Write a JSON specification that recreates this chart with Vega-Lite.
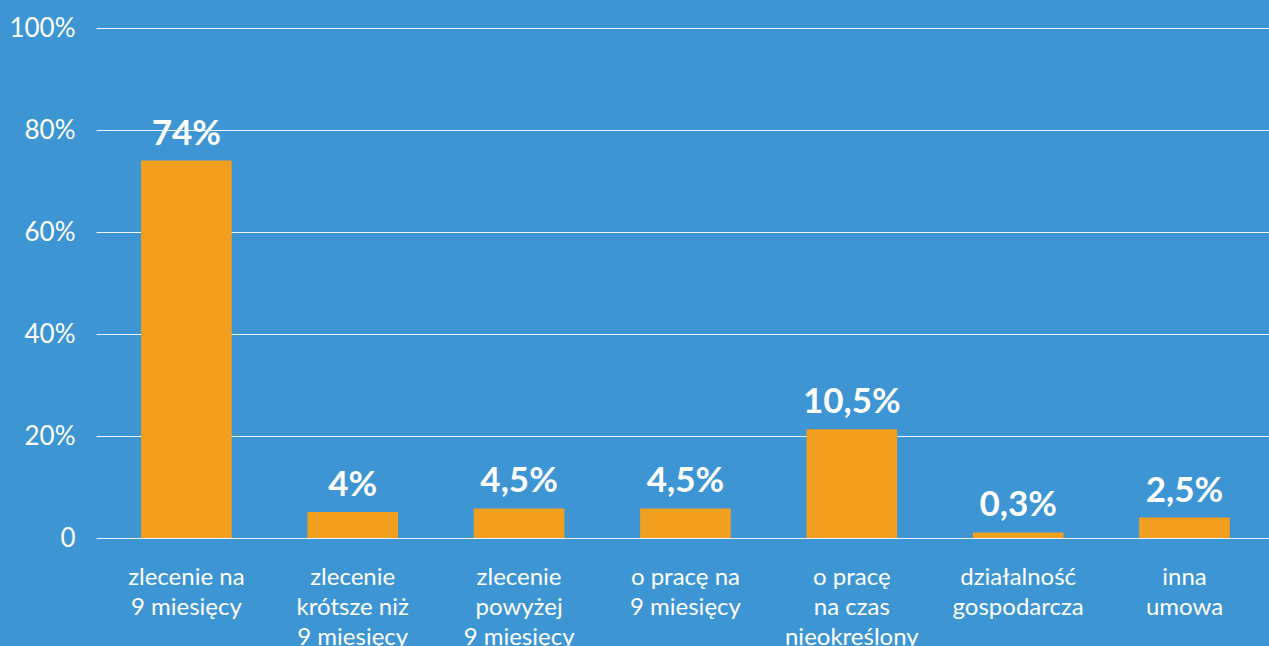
{
  "$schema": "https://vega.github.io/schema/vega-lite/v6.json",
  "width": 1173,
  "height": 510,
  "autosize": {"type": "none"},
  "padding": {"left": 96, "top": 28, "right": 0, "bottom": 108},
  "background": "#3D96D3",
  "config": {
    "view": {"stroke": null},
    "font": "Lato"
  },
  "data": {
    "values": [
      {"kategoria": "zlecenie na|9 miesięcy", "wartosc": 74, "etykieta": "74%"},
      {"kategoria": "zlecenie|krótsze niż|9 miesięcy", "wartosc": 5.1, "etykieta": "4%"},
      {"kategoria": "zlecenie|powyżej|9 miesięcy", "wartosc": 5.8, "etykieta": "4,5%"},
      {"kategoria": "o pracę na|9 miesięcy", "wartosc": 5.8, "etykieta": "4,5%"},
      {"kategoria": "o pracę|na czas|nieokreślony", "wartosc": 21.3, "etykieta": "10,5%"},
      {"kategoria": "działalność|gospodarcza", "wartosc": 1.1, "etykieta": "0,3%"},
      {"kategoria": "inna|umowa", "wartosc": 4.0, "etykieta": "2,5%"}
    ]
  },
  "encoding": {
    "x": {
      "field": "kategoria",
      "type": "nominal",
      "sort": null,
      "scale": {"paddingInner": 0.455, "paddingOuter": 0.253, "align": 0.535},
      "axis": {
        "title": null,
        "labelAngle": 0,
        "labelExpr": "split(datum.label, '|')",
        "labelFont": "Lato",
        "labelFontSize": 24,
        "labelLineHeight": 30,
        "labelColor": "#ffffff",
        "labelPadding": 27,
        "labelBaseline": "top",
        "ticks": false,
        "tickSize": 0,
        "domain": false,
        "grid": false
      }
    },
    "y": {
      "field": "wartosc",
      "type": "quantitative",
      "scale": {"domain": [0, 100], "nice": false},
      "axis": {
        "title": null,
        "values": [0, 20, 40, 60, 80, 100],
        "labelExpr": "datum.value == 0 ? '0' : datum.value + '%'",
        "labelFont": "Lato",
        "labelFontSize": 26,
        "labelColor": "#ffffff",
        "labelPadding": 21,
        "ticks": false,
        "tickSize": 0,
        "domain": false,
        "grid": true,
        "gridColor": "#ffffff",
        "gridOpacity": 0.9,
        "gridWidth": 1
      }
    }
  },
  "layer": [
    {"mark": {"type": "bar", "color": "#F29E1F"}},
    {
      "mark": {"type": "text", "font": "Lato", "fontWeight": 700, "fontSize": 35, "color": "#ffffff", "baseline": "alphabetic", "dy": -16},
      "encoding": {"text": {"field": "etykieta"}}
    }
  ]
}
